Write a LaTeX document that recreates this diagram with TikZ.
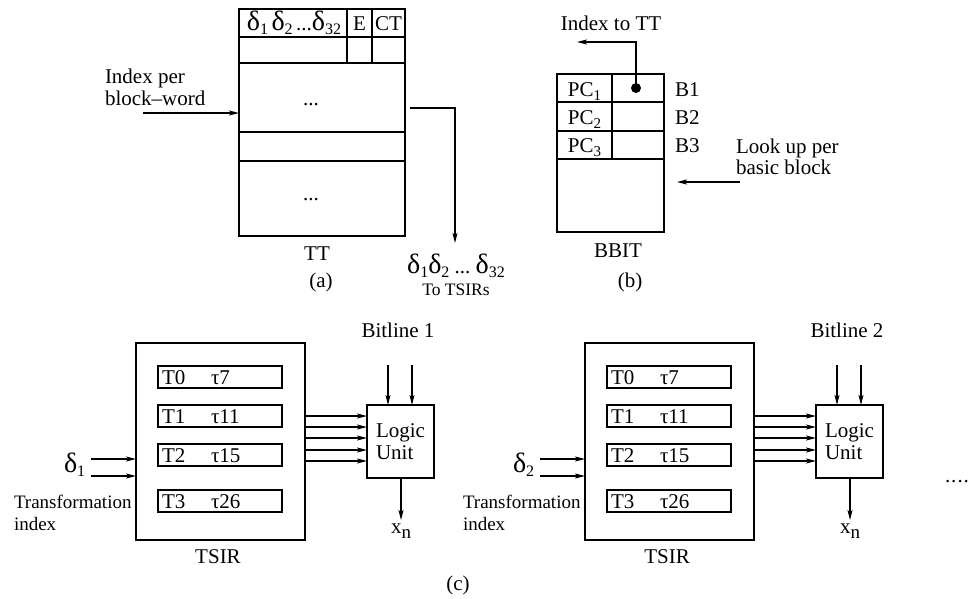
\documentclass[tikz,border=0pt]{standalone}
\usepackage{fontspec}
\setmainfont{Liberation Serif}
\usetikzlibrary{arrows.meta}
\newcommand\dlt[2]{{\fontsize{28}{28}\selectfont δ}\raisebox{-4pt}{\fontsize{16}{16}\selectfont #2}}
\newcommand\lowidx[1]{\raisebox{-4pt}{\fontsize{15}{15}\selectfont #1}}
\begin{document}
\begin{tikzpicture}[x=1pt,y=-1pt, line width=1.1pt,
  >={Stealth[length=10pt,width=5pt,inset=2.5pt]},
  every node/.style={font=\fontsize{21}{22}\selectfont, inner sep=0pt, outer sep=0pt},
  cell/.style={draw, anchor=north west, inner sep=0pt},
  small/.style={font=\fontsize{19}{20}\selectfont},
  tiny/.style={font=\fontsize{17.5}{18}\selectfont}]
\useasboundingbox (0,0) rectangle (972,598);

% ---------------- (a) TT ----------------
\node[cell, minimum width=166pt, minimum height=227pt] (tt) at (239,9) {};
\foreach \yy in {37,63,132,161} \draw (tt.west |- 0,\yy) -- (tt.east |- 0,\yy);
\draw (347,0 |- tt.north) -- (347,63);
\draw (372,0 |- tt.north) -- (372,63);
\node[anchor=base] (hd) at (294,30) {\dlt{}{1}\,\dlt{}{2}\,...\dlt{}{32}};
\node[anchor=base] (he) at (359.5,30) {E};
\node[anchor=base] (hct) at (388.5,30) {CT};
\node[anchor=base] (d1) at (311,105) {...};
\node[anchor=base] (d2) at (311,200) {...};
\node[anchor=base west] (ipb1) at (105,83) {Index per};
\node[anchor=base west] (ipb2) at (105,105) {block–word};
\coordinate (inA) at (143,113);
\draw[->] (inA) -- (inA -| tt.west);
\coordinate (ttout) at (410,108);
\coordinate (ttend) at (455,243);
\draw[->] (ttout) -| (ttend);
\node[anchor=base] (dls) at (456,273) {\dlt{}{1}\dlt{}{2}\ ...\ \dlt{}{32}};
\node[anchor=base, tiny] (tots) at (456,295) {To TSIRs};
\node[anchor=base] (ttl) at (317,260) {TT};
\node[anchor=base] (la) at (321,287) {(a)};

% ---------------- (b) BBIT ----------------
\node[cell, minimum width=107pt, minimum height=158pt] (bbit) at (557,74) {};
\foreach \yy in {102,131,159} \draw (bbit.west |- 0,\yy) -- (bbit.east |- 0,\yy);
\draw (612,0 |- bbit.north) -- (612,159);
\node[anchor=base] (pc1) at (584.5,96) {PC\lowidx{1}};
\node[anchor=base] (pc2) at (584.5,124) {PC\lowidx{2}};
\node[anchor=base] (pc3) at (584.5,152) {PC\lowidx{3}};
\node[anchor=base west] (b1) at (675,96) {B1};
\node[anchor=base west] (b2) at (675,124) {B2};
\node[anchor=base west] (b3) at (675,152) {B3};
\node[circle, fill, minimum size=10pt] (dot) at (636,88) {};
\coordinate (idx) at (577,42);
\draw[->] (dot.center) |- (idx);
\node[anchor=base] (itt) at (611,30) {Index to TT};
\node[anchor=base west] (lk1) at (736,153) {Look up per};
\node[anchor=base west] (lk2) at (736,174) {basic block};
\coordinate (lk) at (740,182);
\coordinate (lkend) at (677,182);
\draw[->] (lk) -- (lkend);
\node[anchor=base] (bbl) at (618,257) {BBIT};
\node[anchor=base] (lb) at (630,287) {(b)};

% ---------------- (c) TSIR units ----------------
\foreach \i/\dx in {1/0, 2/449} {
\begin{scope}[xshift=\dx pt]
\node[cell, minimum width=169pt, minimum height=197pt] (tsir\i) at (136,343) {};
\foreach \r/\top/\tn/\tau in {0/366/T0/τ7, 1/405/T1/τ11, 2/444/T2/τ15, 3/490/T3/τ26} {
  \node[cell, minimum width=124pt, minimum height=22pt] (row\i\r) at (158,\top) {};
  \node[anchor=base west] (tn\i\r) at (162,\top+18) {\tn};
  \node[anchor=base west] (ta\i\r) at (211,\top+18) {\tau};
}
\node[cell, minimum width=67pt, minimum height=73pt, align=left] (lu\i) at (367,405) {Logic\\Unit};
\foreach \yy in {416,427,438,450,461}
  \draw[->] (tsir\i.east |- 0,\yy) -- (lu\i.west |- 0,\yy);
\foreach \xx in {388,412}
  \draw[->] (\xx,365) -- (\xx,0 |- lu\i.north);
\coordinate (out\i) at (401,520);
\draw[->] (out\i |- lu\i.south) -- (out\i);
\node[anchor=base] (xn\i) at (401,533) {x\raisebox{-5pt}{\fontsize{19}{19}\selectfont n}};
\foreach \yy in {459,476}
  \draw[->] (91,\yy) -- (tsir\i.west |- 0,\yy);
\node[anchor=base west] (dd\i) at (64,472) {\dlt{}{\i}};
\node[anchor=base west, small] (tr\i) at (14,508) {Transformation};
\node[anchor=base west, small] (ix\i) at (14,530) {index};
\node[anchor=base] (ts\i) at (218,563) {TSIR};
\node[anchor=base] (bl\i) at (398,337) {Bitline \i};
\end{scope}
}
\node[anchor=base] (lc) at (458,590) {(c)};
\node (more) at (957,482) {\fontsize{21}{21}\selectfont .\kern1pt.\kern1pt.\kern1pt.};
\end{tikzpicture}
\end{document}
